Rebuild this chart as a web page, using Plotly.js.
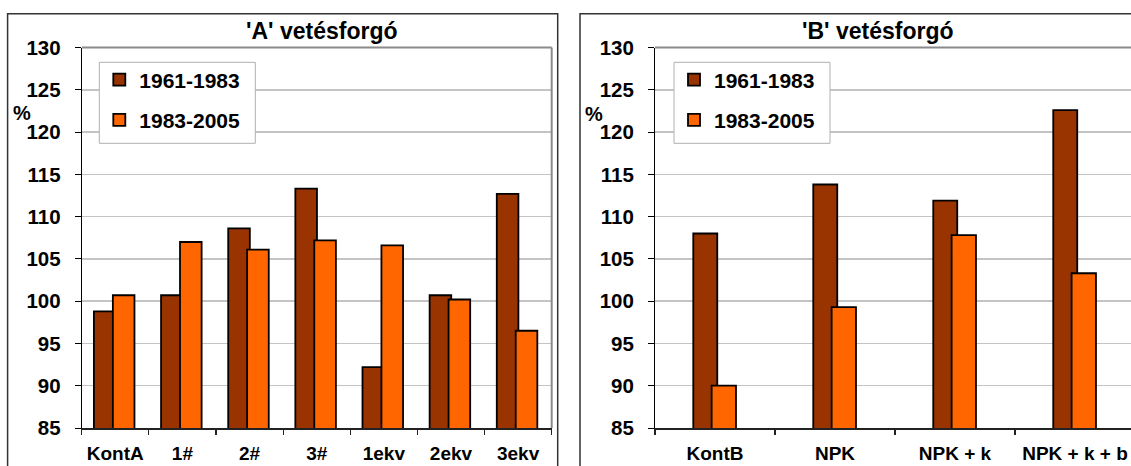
<!DOCTYPE html>
<html>
<head>
<meta charset="utf-8">
<script src="https://cdn.plot.ly/plotly-3.0.1.min.js"></script>
<style>
  html, body { margin: 0; padding: 0; background: #ffffff; }
  #chart { width: 1131px; height: 466px; }
</style>
</head>
<body>
<div id="chart"></div>
<script>
// Relative yield (%) for the two crop rotations and two periods
const catsA = ['KontA', '1#', '2#', '3#', '1ekv', '2ekv', '3ekv'];
const a1961 = [98.8, 100.7, 108.6, 113.3, 92.2, 100.7, 112.7];
const a1983 = [100.7, 107.0, 106.1, 107.2, 106.6, 100.2, 96.5];

const catsB = ['KontB', 'NPK', 'NPK + k', 'NPK + k + b'];
const b1961 = [108.0, 113.8, 111.9, 122.6];
const b1983 = [90.0, 99.3, 107.8, 103.3];

const seriesNames = ['1961-1983', '1983-2005'];
const titles = ["'A' vetésforgó", "'B' vetésforgó"];
const yTicks = [85, 90, 95, 100, 105, 110, 115, 120, 125, 130];

const W = 1131, H = 466;
const px = v => v / W;          // pixel -> paper x
const py = v => 1 - v / H;      // pixel -> paper y

const DARK = '#993300', ORANGE = '#FF6600';
const FONT = 'Liberation Sans, Arial, sans-serif';
const outline = { color: '#000000', width: 1.8 };

function bars(cats, vals, name, color, xa, ya, off, wid, leg) {
  return {
    type: 'bar', x: cats, y: vals, name: name, xaxis: xa, yaxis: ya,
    marker: { color: color, line: outline },
    offset: off, width: wid, legend: leg, legendgroup: name + leg,
    hoverinfo: 'skip'
  };
}

const traces = [
  bars(catsA, a1961, seriesNames[0], DARK, 'x', 'y', -0.318, 0.322, 'legend'),
  bars(catsA, a1983, seriesNames[1], ORANGE, 'x', 'y', -0.036, 0.322, 'legend'),
  bars(catsB, b1961, seriesNames[0], DARK, 'x2', 'y2', -0.181, 0.2, 'legend2'),
  bars(catsB, b1983, seriesNames[1], ORANGE, 'x2', 'y2', -0.028, 0.203, 'legend2')
];

const yDomain = [py(428), py(47.5)];

function yAxis(anchor) {
  return {
    domain: yDomain, anchor: anchor, range: [85, 130],
    tickmode: 'array', tickvals: yTicks, ticktext: yTicks.map(String),
    showgrid: true, gridcolor: '#c4c4c4', gridwidth: 1.5,
    showline: true, linecolor: '#000000', linewidth: 1,
    ticks: 'outside', ticklen: 6, tickcolor: '#000000', tickwidth: 1,
    ticklabelstandoff: 10,
    tickfont: { family: FONT, size: 20.5, color: '#000000', weight: 'bold' },
    zeroline: false, fixedrange: true
  };
}

function xAxis(anchor, domain, range) {
  return {
    domain: domain, anchor: anchor, type: 'category', range: range,
    showgrid: false, showline: true, linecolor: '#222222', linewidth: 1.5,
    ticks: 'outside', tickson: 'boundaries', ticklen: 5,
    tickcolor: '#222222', tickwidth: 1.2, tickangle: 0,
    ticklabelstandoff: 8,
    tickfont: { family: FONT, size: 19, color: '#000000', weight: 'bold' },
    zeroline: false, fixedrange: true
  };
}

// legend entries sit inside a separately drawn white box
const legendStyle = (xpx) => ({
  x: px(xpx), y: py(59.5), xanchor: 'left', yanchor: 'top',
  bgcolor: 'rgba(0,0,0,0)', borderwidth: 0,
  font: { family: FONT, size: 21, color: '#000000', weight: 'bold' },
  traceorder: 'grouped', tracegroupgap: 10, itemclick: false
});

const legendBox = (x0) => ({
  type: 'rect', xref: 'paper', yref: 'paper',
  x0: px(x0), x1: px(x0 + 156), y0: py(143.3), y1: py(62.3),
  fillcolor: '#ffffff', line: { color: '#b0b0b0', width: 1 }, layer: 'above'
});

const frameLine = (x0, y0, x1, y1, color, w) => ({
  type: 'line', xref: 'paper', yref: 'paper',
  x0: px(x0), y0: py(y0), x1: px(x1), y1: py(y1),
  line: { color: color, width: w }, layer: 'above'
});

const label = (text, xpx, ypx, size) => ({
  text: text, xref: 'paper', yref: 'paper', x: px(xpx), y: py(ypx),
  xanchor: 'center', yanchor: 'middle', showarrow: false,
  font: { family: FONT, size: size, color: '#000000', weight: 'bold' }
});

const layout = {
  width: W, height: H,
  margin: { l: 0, r: 0, t: 0, b: 0 },
  paper_bgcolor: '#ffffff', plot_bgcolor: '#ffffff',
  barmode: 'overlay', showlegend: true,
  xaxis: xAxis('y', [px(81.7), px(551.7)], [-0.5, 6.5]),
  yaxis: yAxis('x'),
  xaxis2: xAxis('y2', [px(655), 1], [-0.5, 3.467]),
  yaxis2: yAxis('x2'),
  legend: legendStyle(99.3),
  legend2: legendStyle(674),
  shapes: [
    // plot-area frames (top and right edges)
    frameLine(81.7, 47.5, 551.7, 47.5, '#8a8a8a', 2),
    frameLine(551.7, 47.5, 551.7, 428, '#8a8a8a', 2),
    frameLine(655, 47.5, 1131, 47.5, '#8a8a8a', 2),
    // legend boxes
    legendBox(99.3),
    legendBox(674),
    // chart outer borders
    { type: 'rect', xref: 'paper', yref: 'paper',
      x0: px(7.6), x1: px(557.7), y0: py(13.7), y1: py(490),
      line: { color: '#333333', width: 1.5 }, layer: 'above' },
    { type: 'rect', xref: 'paper', yref: 'paper',
      x0: px(580), x1: px(1150), y0: py(13.7), y1: py(490),
      line: { color: '#333333', width: 1.5 }, layer: 'above' }
  ],
  annotations: [
    label(titles[0], 321.7, 31.5, 23),
    label(titles[1], 878.3, 31.5, 23),
    label('%', 21.5, 113, 20),
    label('%', 593.7, 114, 20)
  ]
};

Plotly.newPlot('chart', traces, layout, { staticPlot: true, displayModeBar: false });
</script>
</body>
</html>
